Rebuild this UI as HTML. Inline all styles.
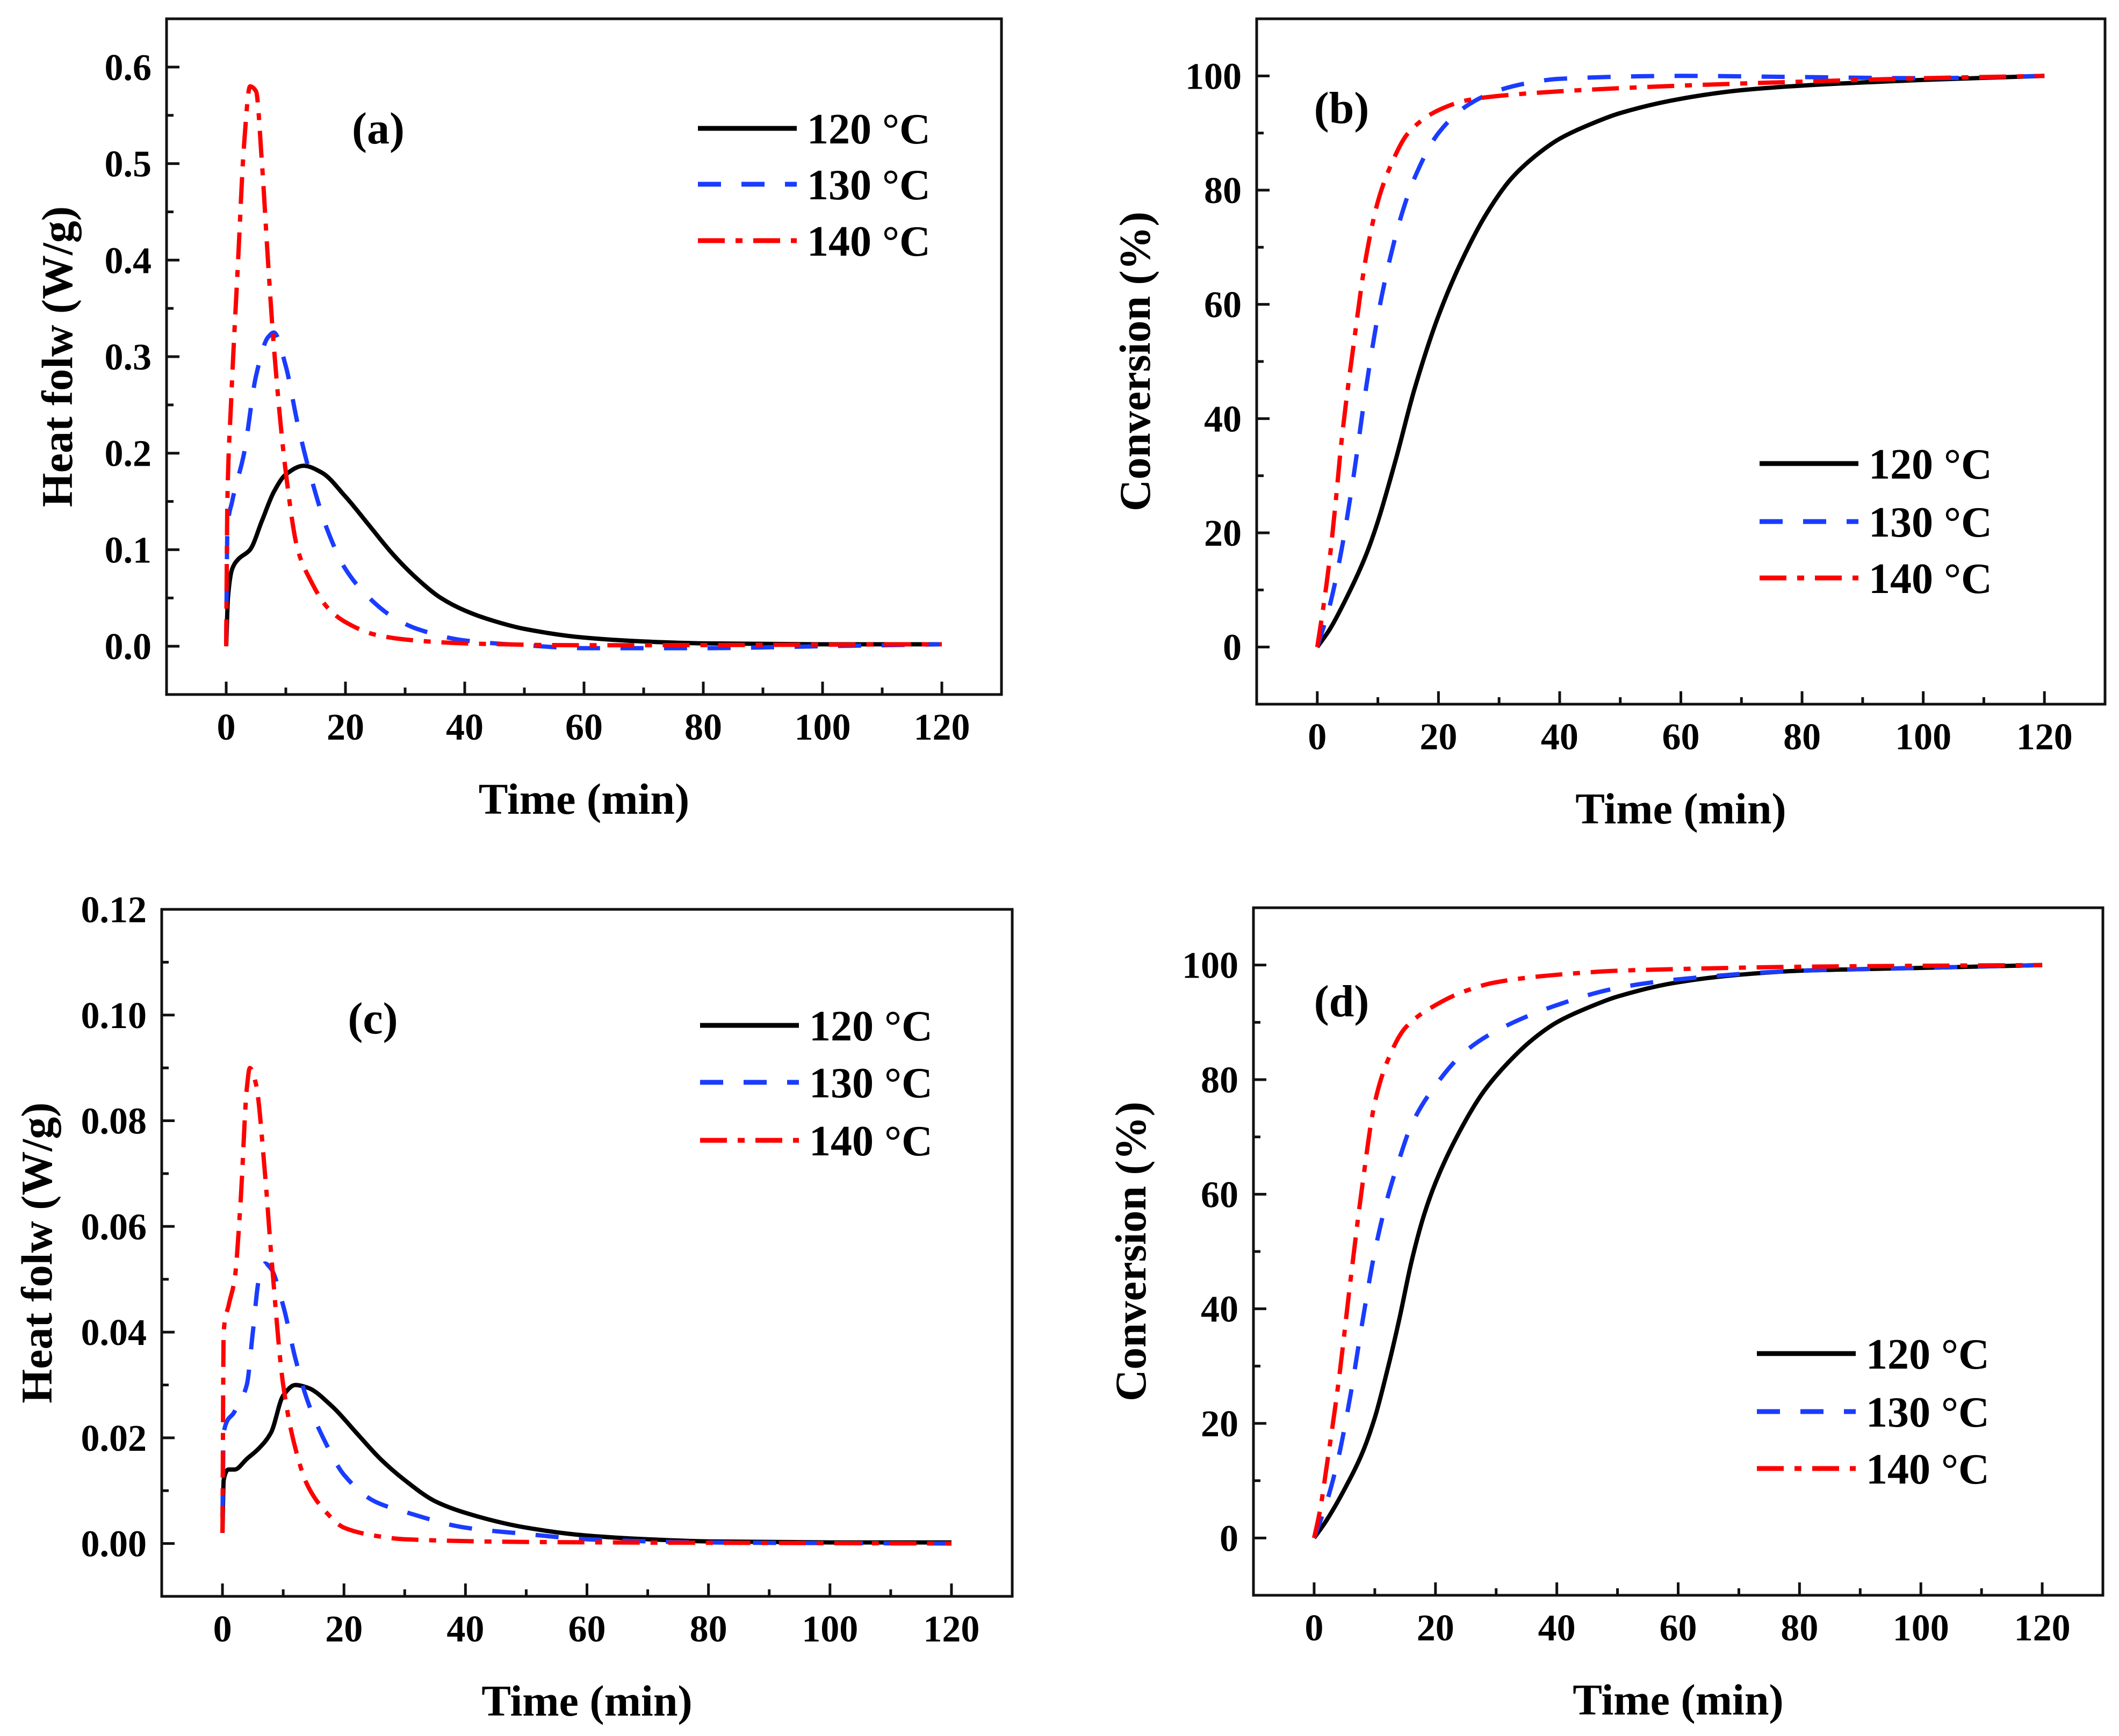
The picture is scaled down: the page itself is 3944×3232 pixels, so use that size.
<!DOCTYPE html>
<html><head><meta charset="utf-8"><style>
html,body{margin:0;padding:0;background:#fff;}
svg{display:block;}
text{font-family:"Liberation Serif",serif;font-weight:bold;fill:#000;}
</style></head>
<body>
<svg id="fig" xmlns="http://www.w3.org/2000/svg" width="3944" height="3232" viewBox="0 0 3944 3232">
<rect width="3944" height="3232" fill="#fff"/>
</svg>
<script>
// ---- data ----
const seriesNames = ["120 °C","130 °C","140 °C"];
// panel (a) heat flow
const a120t=[0,0.3,1,2,4,6,8,10,13,16,20,24,28,32,36,40,45,50,60,70,80,100,120];
const a120v=[0,0.05,0.08,0.09,0.10,0.13,0.16,0.178,0.187,0.18,0.155,0.125,0.095,0.07,0.05,0.037,0.026,0.018,0.009,0.005,0.003,0.002,0.002];
const a130t=[0,0.2,1,3,5,7,8,10,12,14,17,20,24,28,32,40,50,60,80,100,120];
const a130v=[0,0.12,0.15,0.20,0.28,0.32,0.325,0.29,0.23,0.18,0.12,0.08,0.05,0.03,0.018,0.006,0.001,-0.002,-0.002,0,0.002];
const a140t=[0,0.2,0.8,2,3,4,5,6,7,8,10,12,14,17,20,25,30,40,60,120];
const a140v=[0,0.15,0.25,0.40,0.52,0.58,0.575,0.50,0.40,0.31,0.18,0.10,0.07,0.04,0.025,0.012,0.007,0.003,0.001,0.002];
// panel (b) conversion
const b120t=[0,2,5,8,10,13,16,20,24,28,32,36,40,45,50,60,70,80,100,120];
const b120v=[0,3,9,16,22,33,45,58,68,76,82,86,89,91.5,93.5,96,97.5,98.3,99.3,100];
const b130t=[0,2,4,6,8,10,12,14,16,20,25,30,35,40,60,80,100,120];
const b130v=[0,7,17,30,45,58,68,76,82,90,95,97.5,98.8,99.5,100,99.8,99.6,100];
const b140t=[0,1,2,3,4,6,8,10,12,15,20,25,30,40,60,80,100,120];
const b140v=[0,7,15,25,36,53,68,78,84,90,94,95.8,96.5,97.3,98.3,99,99.6,100];
// panel (c) heat flow
const c120t=[0,0.2,1,2,4,6,8,10,12,14,18,22,26,30,35,40,50,60,70,80,100,120];
const c120v=[0.002,0.012,0.014,0.014,0.016,0.018,0.021,0.028,0.030,0.0295,0.026,0.021,0.016,0.012,0.008,0.0058,0.003,0.0015,0.0008,0.0004,0.0002,0.0002];
const c130t=[0,0.2,2,4,5,6,7,8,10,12,14,17,20,25,30,40,50,60,80,120];
const c130v=[0.005,0.021,0.025,0.03,0.04,0.05,0.053,0.052,0.045,0.035,0.027,0.019,0.013,0.008,0.006,0.003,0.0018,0.0008,0.0002,0];
const c140t=[0,0.2,1,2,3,4,4.5,5.5,7,8,10,12,14,17,20,25,30,50,120];
const c140v=[0.002,0.04,0.045,0.05,0.065,0.086,0.09,0.087,0.07,0.055,0.03,0.018,0.011,0.006,0.003,0.0015,0.0008,0.0003,0];
// panel (d) conversion
const d120t=[0,2,5,8,10,12,14,16,18,20,24,28,32,36,40,45,50,60,70,80,100,120];
const d120v=[0,3,8.5,15,21,29,38,48,56,62,71,78,83,87,90,92.5,94.5,97,98.3,99,99.5,100];
const d130t=[0,2,4,6,8,10,12,14,16,20,25,30,40,50,60,80,100,120];
const d130v=[0,6,14,25,38,50,59,66,72,79,85,88.5,93,96,97.5,99,99.5,100];
const d140t=[0,1,2,4,6,8,10,12,15,20,25,30,40,50,60,80,120];
const d140v=[0,5,12,27,45,62,76,83,89,93,95.5,97,98.3,99,99.3,99.7,100];
const xTicks=[0,20,40,60,80,100,120];
const heatTicksA=[0,0.1,0.2,0.3,0.4,0.5,0.6];
const heatTicksC=[0,0.02,0.04,0.06,0.08,0.10,0.12];
const convTicks=[0,20,40,60,80,100];

const NS="http://www.w3.org/2000/svg";
const svg=document.getElementById('fig');
function el(tag,attrs,parent){const e=document.createElementNS(NS,tag);for(const k in attrs)e.setAttribute(k,attrs[k]);(parent||svg).appendChild(e);return e;}
const colors=["#000000","#1a3cff","#ff0000"];
const dashes=["none","43 38","50 20 13 20"];

// monotone cubic path through pixel points
function smoothPath(px,py){
  const n=px.length;
  const dx=[],s=[];
  for(let i=0;i<n-1;i++){dx.push(px[i+1]-px[i]);s.push((py[i+1]-py[i])/(dx[i]||1e-9));}
  const m=new Array(n);
  m[0]=s[0];m[n-1]=s[n-2];
  for(let i=1;i<n-1;i++){
    if(s[i-1]*s[i]<=0)m[i]=0;
    else{const w1=2*dx[i]+dx[i-1],w2=dx[i]+2*dx[i-1];m[i]=(w1+w2)/(w1/s[i-1]+w2/s[i]);}
  }
  let d='M'+px[0].toFixed(1)+' '+py[0].toFixed(1);
  for(let i=0;i<n-1;i++){
    const h=dx[i]/3;
    d+='C'+(px[i]+h).toFixed(1)+' '+(py[i]+m[i]*h).toFixed(1)+' '+(px[i+1]-h).toFixed(1)+' '+(py[i+1]-m[i+1]*h).toFixed(1)+' '+px[i+1].toFixed(1)+' '+py[i+1].toFixed(1);
  }
  return d;
}

function panel(p){
  const g=el('g',{});
  
  
  const X=v=>p.L+(v-p.xmin)/(p.xmax-p.xmin)*(p.R-p.L);
  const Y=v=>p.B-(v-p.ymin)/(p.ymax-p.ymin)*(p.B-p.T);
  p.series.forEach((s,i)=>{
    const d=smoothPath(s.t.map(X),s.v.map(Y));
    const path=el('path',{d:d,fill:'none',stroke:colors[i],'stroke-width':8,'stroke-dasharray':dashes[i],'stroke-linejoin':'round'},g);
    
    
  });
  const fr=el('rect',{x:p.L,y:p.T,width:p.R-p.L,height:p.B-p.T,fill:'none',stroke:'#111','stroke-width':5},g);
  
  
  xTicks.forEach(v=>{
    const x=X(v);
    el('line',{x1:x,y1:p.B,x2:x,y2:p.B-24,stroke:'#111','stroke-width':5},g);
    const mx=X(v+10);
    if(v<120) el('line',{x1:mx,y1:p.B,x2:mx,y2:p.B-13,stroke:'#111','stroke-width':5},g);
    const t=el('text',{x:x,y:p.B+84,'font-size':70,'text-anchor':'middle'},g);
    t.textContent=String(v);
    
    
  });
  p.yTicks.forEach((v,k)=>{
    const y=Y(v);
    el('line',{x1:p.L,y1:y,x2:p.L+24,y2:y,stroke:'#111','stroke-width':5},g);
    if(k<p.yTicks.length-1){const my=Y((v+p.yTicks[k+1])/2);el('line',{x1:p.L,y1:my,x2:p.L+13,y2:my,stroke:'#111','stroke-width':5},g);}
    const t=el('text',{x:p.L-28,y:y+24,'font-size':70,'text-anchor':'end'},g);
    t.textContent=p.fmt(v);
    
    
  });
  const xt=el('text',{x:(p.L+p.R)/2,y:p.B+222,'font-size':82,'text-anchor':'middle'},g);
  xt.textContent='Time (min)';
  
  
  const yt=el('text',{x:0,y:0,'font-size':82,'text-anchor':'middle',transform:'translate('+p.ytx+','+((p.T+p.B)/2)+') rotate(-90)'},g);
  yt.textContent=p.ytitle;
  
  
  const pl=el('text',{x:p.lab[0],y:p.lab[1]+28,'font-size':84,'text-anchor':'middle'},g);
  pl.textContent='('+p.id+')';
  
  
  p.legY.forEach((ly,i)=>{
    const ln=el('line',{x1:p.legX,y1:ly,x2:p.legX+184,y2:ly,stroke:colors[i],'stroke-width':9,'stroke-dasharray':dashes[i]},g);
    
    
    const lt=el('text',{x:p.legX+203,y:ly+28,'font-size':80},g);
    lt.textContent=seriesNames[i];
    
    
  });
}
const f1=v=>v.toFixed(1), f2=v=>v.toFixed(2), f0=v=>String(v);
panel({id:'a',L:310,R:1864,T:35,B:1293,xmin:-10,xmax:130,ymin:-0.05,ymax:0.65,yTicks:heatTicksA,fmt:f1,
  ytitle:'Heat folw (W/g)',ytx:134,lab:[704,239],legX:1299,legY:[239,343,448],
  series:[{t:a120t,v:a120v},{t:a130t,v:a130v},{t:a140t,v:a140v}]});
panel({id:'b',L:2339,R:3918,T:35,B:1311,xmin:-10,xmax:130,ymin:-10,ymax:110,yTicks:convTicks,fmt:f0,
  ytitle:'Conversion (%)',ytx:2140,lab:[2497,201],legX:3275,legY:[863,971,1076],
  series:[{t:b120t,v:b120v},{t:b130t,v:b130v},{t:b140t,v:b140v}]});
panel({id:'c',L:301,R:1884,T:1693,B:2972,xmin:-10,xmax:130,ymin:-0.01,ymax:0.12,yTicks:heatTicksC,fmt:f2,
  ytitle:'Heat folw (W/g)',ytx:96,lab:[694,1896],legX:1303,legY:[1909,2015,2123],
  series:[{t:c120t,v:c120v},{t:c130t,v:c130v},{t:c140t,v:c140v}]});
panel({id:'d',L:2333,R:3914,T:1690,B:2970,xmin:-10,xmax:130,ymin:-10,ymax:110,yTicks:convTicks,fmt:f0,
  ytitle:'Conversion (%)',ytx:2132,lab:[2497,1864],legX:3270,legY:[2520,2628,2734],
  series:[{t:d120t,v:d120v},{t:d130t,v:d130v},{t:d140t,v:d140v}]});
</script>
</body></html>
